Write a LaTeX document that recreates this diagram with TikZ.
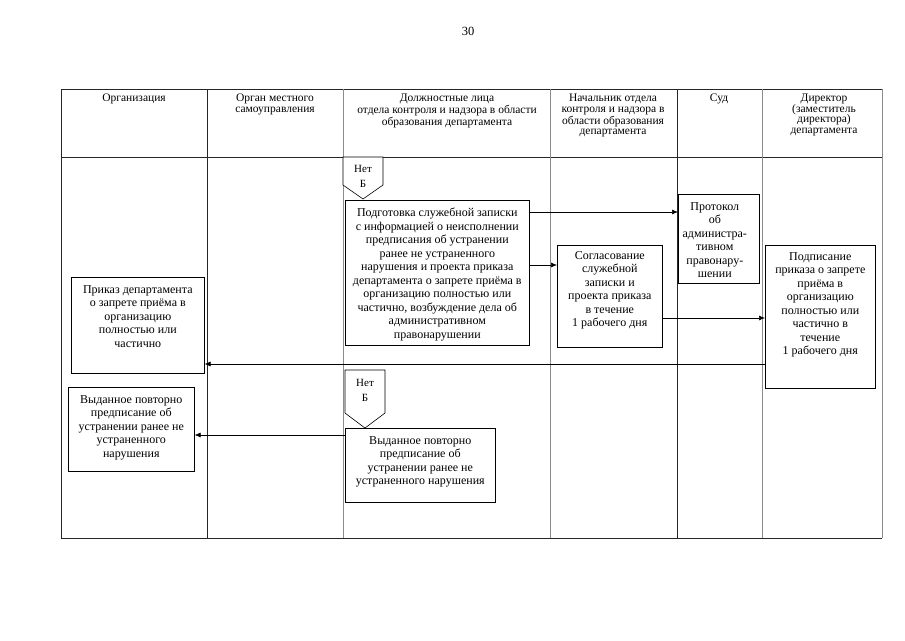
\documentclass[tikz,border=0pt]{standalone}
\usepackage{fontspec}
\setmainfont{Liberation Serif}
\usetikzlibrary{arrows.meta,calc,shadows}
\begin{document}
\begin{tikzpicture}[x=1pt,y=-1pt,
  hdr/.style={anchor=north, align=center, font=\fontsize{11.5}{10.6}\selectfont, inner sep=0pt},
  txt/.style={anchor=north, align=center, font=\fontsize{12}{13.5}\selectfont, inner sep=0pt},
  flowbox/.style={draw=black, line width=0.6pt, fill=white, inner sep=0pt, anchor=north west,
     drop shadow={shadow xshift=1.1pt, shadow yshift=-1.1pt, fill=black!45, opacity=1}},
  darkline/.style={draw=black!85, line width=0.7pt},
  greyline/.style={draw=black!45, line width=0.7pt},
  arr/.style={draw=black, line width=0.6pt, -{Latex[length=6pt,width=5pt]}},
  pent/.style={draw=black, line width=0.6pt, fill=white},
  nbtxt/.style={align=center, font=\fontsize{11}{15}\selectfont, inner sep=0pt}
]
\useasboundingbox (0,0) rectangle (905,640);

% page number
\node[font=\fontsize{12.5}{14}\selectfont] (pg) at (468,31) {30};

% table
\draw[darkline] (61,89) -- (882,89);
\draw[darkline] (61,538) -- (882,538);
\draw[darkline] (61,89) -- (61,538);
\draw[greyline] (882,89) -- (882,538);
\draw[darkline] (61,157) -- (882,157);
\draw[darkline] (207,89) -- (207,538);
\draw[greyline] (343,89) -- (343,538);
\draw[greyline] (550,89) -- (550,538);
\draw[darkline] (677,89) -- (677,538);
\draw[greyline] (762,89) -- (762,538);

% headers
\node[hdr] (h1) at (134,94) {Организация};
\node[hdr] (h2) at (275,94) {Орган местного\\самоуправления};
\node[hdr] (h3) at (447,94) {Должностные лица\\отдела контроля и надзора в области\\образования департамента};
\node[hdr] (h4) at (613,94) {Начальник отдела\\контроля и надзора в\\области образования\\департамента};
\node[hdr] (h5) at (719,94) {Суд};
\node[hdr] (h6) at (824,94) {Директор\\(заместитель\\директора)\\департамента};

% boxes
\node[flowbox, minimum width=184pt, minimum height=145pt] (main) at (345,200) {};
\node[flowbox, minimum width=105pt, minimum height=102pt] (sogl) at (557,245) {};
\node[flowbox, minimum width=81pt, minimum height=89pt] (proto) at (678,194) {};
\node[flowbox, minimum width=110pt, minimum height=143pt] (dir) at (765,245) {};
\node[flowbox, minimum width=133pt, minimum height=96pt] (prikaz) at (71,277) {};
\node[flowbox, minimum width=126pt, minimum height=84pt] (left2) at (68,387) {};
\node[flowbox, minimum width=150pt, minimum height=74pt] (low) at (345,428) {};

% box texts
\node[txt] (maint) at ($(main.north)+(0,8)$) {Подготовка служебной записки\\с информацией о неисполнении\\предписания об устранении\\ранее не устраненного\\нарушения и проекта приказа\\департамента о запрете приёма в\\организацию полностью или\\частично, возбуждение дела об\\административном\\правонарушении};
\node[txt] (soglt) at ($(sogl.north)+(0,6)$) {Согласование\\служебной\\записки и\\проекта приказа\\в течение\\1 рабочего дня};
\node[txt] (protot) at ($(proto.north)+(-4,8)$) {Протокол\\об\\администра-\\тивном\\правонару-\\шении};
\node[txt] (dirt) at ($(dir.north)+(0,7)$) {Подписание\\приказа о запрете\\приёма в\\организацию\\полностью или\\частично в\\течение\\1 рабочего дня};
\node[txt] (prikazt) at ($(prikaz.north)+(0,8)$) {Приказ департамента\\о запрете приёма в\\организацию\\полностью или\\частично};
\node[txt] (left2t) at ($(left2.north)+(0,8)$) {Выданное повторно\\предписание об\\устранении ранее не\\устраненного\\нарушения};
\node[txt] (lowt) at ($(low.north)+(0,8)$) {Выданное повторно\\предписание об\\устранении ранее не\\устраненного нарушения};

% off-page connectors
\draw[pent] (343,157) -- (383,157) -- (383,185) -- (363,199) -- (343,185) -- cycle;
\node[nbtxt] (nb1) at (363,176) {Нет\\Б};
\draw[pent] (345,370) -- (385,370) -- (385,413) -- (365,428) -- (345,413) -- cycle;
\node[nbtxt] (nb2) at (365,390) {Нет\\Б};

% connectors
\coordinate (y212) at (0,212);
\coordinate (y265) at (0,265);
\coordinate (y318) at (0,318);
\coordinate (y364) at (0,364);
\coordinate (y435) at (0,435);
\draw[arr] (main.east |- y212) -- (proto.west |- y212);
\draw[arr] (main.east |- y265) -- (sogl.west |- y265);
\draw[arr] (sogl.east |- y318) -- (dir.west |- y318);
\draw[arr] (dir.west |- y364) -- (prikaz.east |- y364);
\draw[arr] (low.west |- y435) -- (left2.east |- y435);
\end{tikzpicture}
\end{document}
